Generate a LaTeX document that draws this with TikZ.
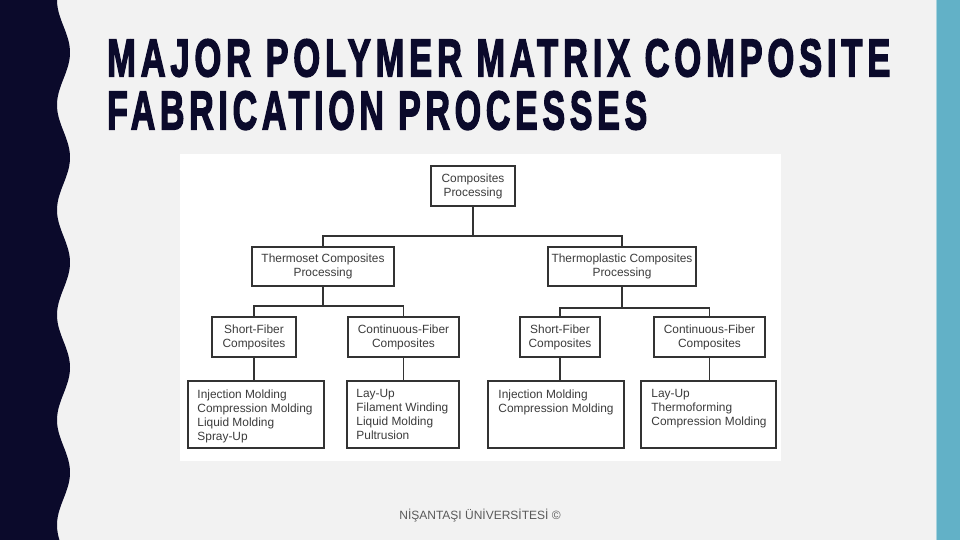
\documentclass[tikz,border=0pt]{standalone}
\usepackage{fontspec}
\setmainfont{Liberation Sans}
\newfontfamily\titlefont[LetterSpace=14,FakeBold=3.2]{Liberation Sans Bold}
\newfontfamily\diagfont{Liberation Sans}
\definecolor{bgc}{HTML}{F2F2F2}
\definecolor{navy}{HTML}{0B0A2B}
\definecolor{tealc}{HTML}{62B1C7}
\definecolor{teallt}{HTML}{A9D3DE}
\definecolor{linec}{HTML}{333333}
\definecolor{txtc}{HTML}{3C3C3C}
\definecolor{footc}{HTML}{595959}
\begin{document}
\begin{tikzpicture}[x=1pt,y=-1pt,
  box/.style={draw=linec, line width=1.5pt, fill=white, inner sep=0pt, rectangle,
    font=\diagfont\fontsize{11.9}{14}\selectfont, text=txtc, align=center},
  listtxt/.style={inner sep=0pt, anchor=north west, align=left,
    font=\diagfont\fontsize{11.9}{14}\selectfont, text=txtc},
  conn/.style={draw=linec, line width=1.6pt}
]
\useasboundingbox (0,0) rectangle (960,540);
\fill[bgc] (0,0) rectangle (960,540);
% left wavy band
\fill[navy] (0,0) -- plot[domain=0:540, samples=220] ({63.5-6.5*cos(3.428571*\x)}, \x) -- (0,540) -- cycle;
% right band
\fill[tealc] (937,0) rectangle (960,540);
\fill[teallt] (936,0) rectangle (937.2,540);
% title
\node[inner sep=0pt, anchor=south west, text=navy] (title1) at (107,77)
  {\resizebox{783pt}{37pt}{\titlefont MAJOR POLYMER MATRIX COMPOSITE}};
\node[inner sep=0pt, anchor=south west, text=navy] (title2) at (107,130)
  {\resizebox{540pt}{38pt}{\titlefont FABRICATION PROCESSES}};
% image area
\fill[white] (180,154) rectangle (781,461);
% boxes
\node[box, minimum width=84pt, minimum height=40pt] (comp) at (473,186) {Composites\\Processing};
\node[box, minimum width=142pt, minimum height=39pt] (ts) at (323,266.5) {Thermoset Composites\\Processing};
\node[box, minimum width=148pt, minimum height=39pt] (tp) at (622,266.5) {Thermoplastic Composites\\Processing};
\node[box, minimum width=84pt, minimum height=40pt] (sf1) at (254,337) {Short-Fiber\\Composites};
\node[box, minimum width=111pt, minimum height=40pt] (cf1) at (403.5,337) {Continuous-Fiber\\Composites};
\node[box, minimum width=80pt, minimum height=40pt] (sf2) at (560,337) {Short-Fiber\\Composites};
\node[box, minimum width=111pt, minimum height=40pt] (cf2) at (709.5,337) {Continuous-Fiber\\Composites};
\node[box, minimum width=136pt, minimum height=67pt] (b1) at (256,414.5) {};
\node[box, minimum width=112pt, minimum height=67pt] (b2) at (403,414.5) {};
\node[box, minimum width=136pt, minimum height=67pt] (b3) at (556,414.5) {};
\node[box, minimum width=135pt, minimum height=67pt] (b4) at (708.5,414.5) {};
\node[listtxt] (t1) at ([xshift=10pt,yshift=-9pt]b1.north west) {Injection Molding\\Compression Molding\\Liquid Molding\\Spray-Up};
\node[listtxt] (t2) at ([xshift=10pt,yshift=-9pt]b2.north west) {Lay-Up\\Filament Winding\\Liquid Molding\\Pultrusion};
\node[listtxt] (t3) at ([xshift=11pt,yshift=-9pt]b3.north west) {Injection Molding\\Compression Molding};
\node[listtxt] (t4) at ([xshift=11pt,yshift=-9pt]b4.north west) {Lay-Up\\Thermoforming\\Compression Molding};
% connectors
\coordinate (bus0) at (473,236);
\coordinate (bus1) at (323,306);
\coordinate (bus2) at (622,308);
\draw[conn] (comp.south) -- (bus0);
\draw[conn] (ts.north) |- (bus0) -| (tp.north);
\draw[conn] (ts.south) -- (bus1);
\draw[conn] (sf1.north) |- (bus1) -| (cf1.north);
\draw[conn] (tp.south) -- (bus2);
\draw[conn] (sf2.north) |- (bus2) -| (cf2.north);
\draw[conn] (sf1.south) -- (sf1.south |- b1.north);
\draw[conn] (cf1.south) -- (cf1.south |- b2.north);
\draw[conn] (sf2.south) -- (sf2.south |- b3.north);
\draw[conn] (cf2.south) -- (cf2.south |- b4.north);
% footer
\node[anchor=base, inner sep=0pt, text=footc, font=\fontsize{12}{14}\selectfont] (foot) at (480,519.5) {NİŞANTAŞI ÜNİVERSİTESİ ©};
\end{tikzpicture}
\end{document}
